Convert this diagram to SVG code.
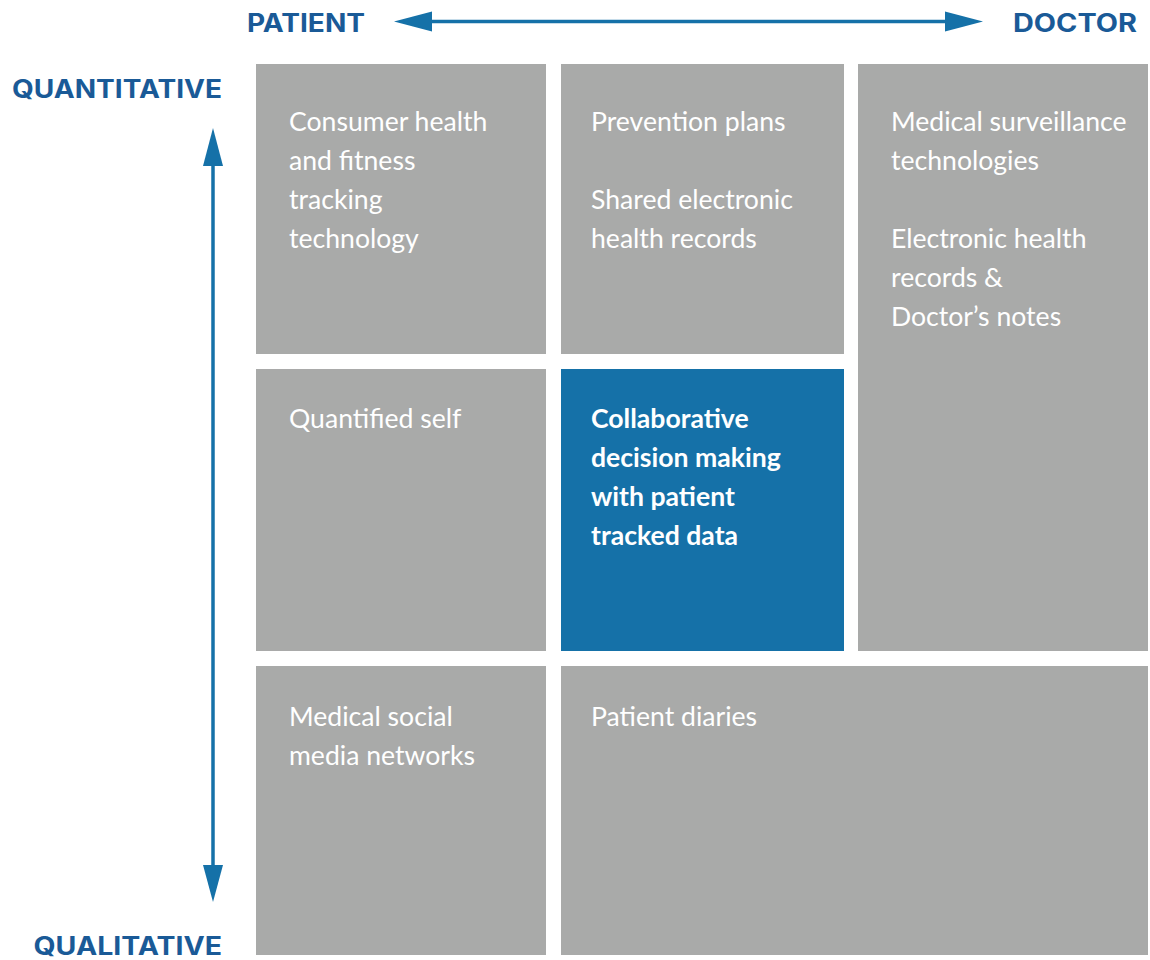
<svg xmlns="http://www.w3.org/2000/svg" width="1150" height="960" viewBox="0 0 1150 960">
<defs>
<style>
.box{fill:#a9aaa9}
.hl{fill:#1571a8}
.t{font-family:Lato,"Open Sans","Liberation Sans",sans-serif;font-size:26.6px;fill:#ffffff}
.tb{font-family:Lato,"Open Sans","Liberation Sans",sans-serif;font-size:26.6px;font-weight:700;fill:#ffffff}
.lab{font-family:Inter,"Liberation Sans",sans-serif;font-size:25px;font-weight:700;fill:#1a5a97}
.ax{stroke:#1571a8;stroke-width:3.5;fill:none}
.ah{fill:#1571a8}
</style>
</defs>
<rect width="1150" height="960" fill="#ffffff"/>
<g id="axes">
<line class="ax" x1="425" y1="21.5" x2="952" y2="21.5"/>
<polygon class="ah" points="394,21.5 432,11.5 432,31.5"/>
<polygon class="ah" points="983,21.5 945,11.5 945,31.5"/>
<line class="ax" x1="213" y1="160" x2="213" y2="870"/>
<polygon class="ah" points="213,128 203,166 223,166"/>
<polygon class="ah" points="213,902 203,865 223,865"/>
</g>
<g id="labels">
<text class="lab" x="247" y="31.5" textLength="118" lengthAdjust="spacingAndGlyphs">PATIENT</text>
<text class="lab" x="1013" y="31.5" textLength="124" lengthAdjust="spacingAndGlyphs">DOCTOR</text>
<text class="lab" x="12" y="97.5" textLength="210" lengthAdjust="spacingAndGlyphs">QUANTITATIVE</text>
<text class="lab" x="33.5" y="955" textLength="188.5" lengthAdjust="spacingAndGlyphs">QUALITATIVE</text>
</g>
<g id="consumer">
<rect class="box" x="256" y="64" width="290" height="290"/>
<text class="t" x="289" y="131">Consumer health</text>
<text class="t" x="289" y="170">and fitness</text>
<text class="t" x="289" y="209">tracking</text>
<text class="t" x="289" y="248">technology</text>
</g>
<g id="prevention">
<rect class="box" x="561" y="64" width="283" height="290"/>
<text class="t" x="591" y="131">Prevention plans</text>
<text class="t" x="591" y="209">Shared electronic</text>
<text class="t" x="591" y="248">health records</text>
</g>
<g id="surveillance">
<rect class="box" x="858" y="64" width="290" height="587"/>
<text class="t" x="891" y="131">Medical surveillance</text>
<text class="t" x="891" y="170">technologies</text>
<text class="t" x="891" y="248">Electronic health</text>
<text class="t" x="891" y="287">records &amp;</text>
<text class="t" x="891" y="326">Doctor’s notes</text>
</g>
<g id="quantified">
<rect class="box" x="256" y="369" width="290" height="282"/>
<text class="t" x="289" y="428">Quantified self</text>
</g>
<g id="collaborative">
<rect class="hl" x="561" y="369" width="283" height="282"/>
<text class="tb" x="591" y="428">Collaborative</text>
<text class="tb" x="591" y="467">decision making</text>
<text class="tb" x="591" y="506">with patient</text>
<text class="tb" x="591" y="545">tracked data</text>
</g>
<g id="social">
<rect class="box" x="256" y="666" width="290" height="289"/>
<text class="t" x="289" y="726">Medical social</text>
<text class="t" x="289" y="765">media networks</text>
</g>
<g id="diaries">
<rect class="box" x="561" y="666" width="587" height="289"/>
<text class="t" x="591" y="726">Patient diaries</text>
</g>
</svg>
